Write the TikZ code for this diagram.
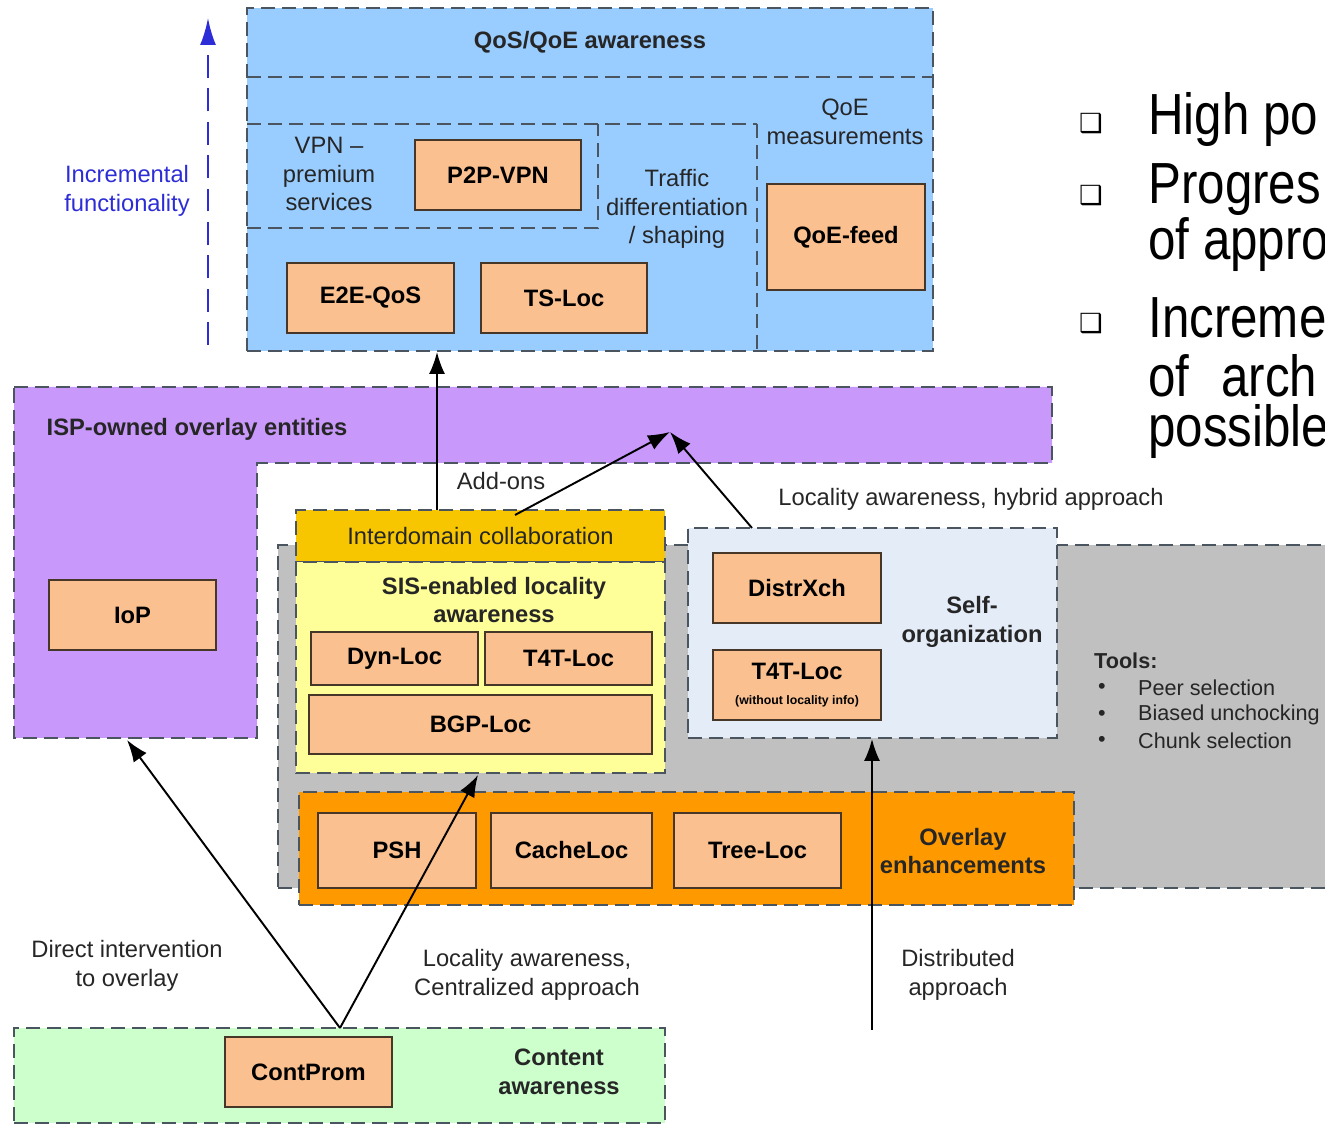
\documentclass[tikz,border=0pt]{standalone}
\usepackage{fontspec}
\setmainfont{Liberation Sans}
\newfontfamily\bigfont[FakeStretch=0.85]{Liberation Sans}
\newfontfamily\symfont{DejaVu Sans}
\usepackage{xcolor}
\usetikzlibrary{arrows.meta}

\definecolor{qosblue}{RGB}{153,204,255}
\definecolor{ispviolet}{RGB}{200,152,250}
\definecolor{graybg}{RGB}{192,192,192}
\definecolor{idcgold}{RGB}{247,198,0}
\definecolor{sisyellow}{RGB}{255,255,153}
\definecolor{selforg}{RGB}{228,236,248}
\definecolor{ovlorange}{RGB}{255,153,0}
\definecolor{contgreen}{RGB}{204,255,204}
\definecolor{compfill}{RGB}{250,192,143}
\definecolor{compedge}{RGB}{70,55,40}
\definecolor{edgegray}{RGB}{75,85,95}
\definecolor{incblue}{RGB}{45,45,215}

\tikzset{
  region/.style={draw=edgegray, dashed, dash pattern=on 8pt off 4pt, line width=1.1pt, inner sep=0pt},
  divider/.style={draw=edgegray, dashed, dash pattern=on 8pt off 4pt, line width=1.1pt},
  comp/.style={draw=compedge, fill=compfill, line width=1.2pt, inner sep=0pt, align=center,
    font=\fontsize{13.5}{16}\selectfont\bfseries},
  lbl/.style={align=center, text=black!85, font=\fontsize{13.5}{16.4}\selectfont},
  blbl/.style={lbl, font=\fontsize{13.5}{16.4}\selectfont\bfseries},
  tool/.style={anchor=west, text=black!85, font=\fontsize{12.3}{14}\selectfont},
  arr/.style={-{Latex[length=0.44cm,width=0.32cm]}, line width=1.1pt},
  big/.style={anchor=west, inner sep=0pt, font=\bigfont\fontsize{33}{38}\selectfont},
  sq/.style={inner sep=0pt, font=\symfont\fontsize{15}{16}\selectfont},
}

\begin{document}
\begin{tikzpicture}
\path[use as bounding box, clip] (0,0) rectangle (26.5,22.5);

% regions %
\node[region, fill=qosblue, minimum width=13.72cm, minimum height=6.86cm] (qos) at (11.80,18.91) {};
\draw[divider] (4.94,20.96) -- (18.66,20.96);
\draw[divider] (4.94,20.02) -- (15.14,20.02);
\draw[divider] (4.94,17.94) -- (11.96,17.94) -- (11.96,20.02);
\draw[divider] (15.14,20.02) -- (15.14,15.48);

\draw[region, fill=ispviolet] (0.28,14.76) -- (21.04,14.76) -- (21.04,13.24) -- (5.14,13.24)
  -- (5.14,7.74) -- (0.28,7.74) -- cycle;

\node[region, fill=graybg, minimum width=21.34cm, minimum height=6.86cm] (tooling) at (16.23,8.17) {};
\node[region, fill=idcgold, minimum width=7.38cm, minimum height=1.04cm] (idc) at (9.61,11.78) {};
\node[region, fill=sisyellow, minimum width=7.38cm, minimum height=4.22cm] (sis) at (9.61,9.15) {};
\node[region, fill=selforg, minimum width=7.38cm, minimum height=4.20cm] (selforg) at (17.45,9.84) {};
\node[region, fill=ovlorange, minimum width=15.50cm, minimum height=2.26cm] (overlay) at (13.73,5.53) {};
\node[region, fill=contgreen, minimum width=13.02cm, minimum height=1.90cm] (content) at (6.79,0.99) {};

% components %
\node[comp, minimum width=3.32cm, minimum height=1.40cm] (ptpvpn) at (9.96,19.00) {P2P-VPN};
\node[comp, minimum width=3.16cm, minimum height=2.12cm] (qoefeed) at (16.92,17.76) {QoE-feed};
\node[comp, minimum width=3.34cm, minimum height=1.40cm] (etoe) at (7.41,16.54) {E2E-QoS};
\node[comp, minimum width=3.32cm, minimum height=1.40cm] (tsloc) at (11.28,16.54) {TS-Loc};
\node[comp, minimum width=3.34cm, minimum height=1.40cm] (iop) at (2.65,10.20) {IoP};
\node[comp, minimum width=3.34cm, minimum height=1.06cm] (dynloc) at (7.89,9.33) {Dyn-Loc};
\node[comp, minimum width=3.34cm, minimum height=1.06cm] (tftloc) at (11.37,9.33) {T4T-Loc};
\node[comp, minimum width=6.86cm, minimum height=1.18cm] (bgploc) at (9.61,8.01) {BGP-Loc};
\node[comp, minimum width=3.36cm, minimum height=1.40cm] (distrxch) at (15.94,10.74) {DistrXch};
\node[comp, minimum width=3.36cm, minimum height=1.40cm] (tftnoloc) at (15.94,8.80)
  {T4T-Loc\\[-2pt]{\fontsize{7}{8}\selectfont (without locality info)}};
\node[comp, minimum width=3.16cm, minimum height=1.50cm] (psh) at (7.94,5.49) {PSH};
\node[comp, minimum width=3.22cm, minimum height=1.50cm] (cacheloc) at (11.43,5.49) {CacheLoc};
\node[comp, minimum width=3.34cm, minimum height=1.50cm] (treeloc) at (15.15,5.49) {Tree-Loc};
\node[comp, minimum width=3.34cm, minimum height=1.40cm] (contprom) at (6.17,1.06) {ContProm};

% texts %
\node[blbl] (qostitle) at (11.80,21.66) {QoS/QoE awareness};
\node[lbl] (qoemeas) at (16.90,20.07) {QoE\\measurements};
\node[lbl] (vpn) at (6.58,19.02) {VPN --\\premium\\services};
\node[lbl] (traffic) at (13.54,18.32) {Traffic\\differentiation\\/ shaping};
\node[lbl, text=incblue] (incr) at (2.54,18.68) {Incremental\\functionality};
\node[blbl] (isptitle) at (3.94,13.92) {ISP-owned overlay entities};
\node[lbl] (idctitle) at (9.61,11.78) {Interdomain collaboration};
\node[blbl] (sistitle) at (9.88,10.50) {SIS-enabled locality\\awareness};
\node[blbl] (sotitle) at (19.44,10.06) {Self-\\organization};
\node[blbl] (ovltitle) at (19.26,5.48) {Overlay\\enhancements};
\node[blbl] (conttitle) at (11.18,1.06) {Content\\awareness};
\node[lbl] (addons) at (10.02,12.88) {Add-ons};
\node[lbl] (hybrid) at (19.42,12.52) {Locality awareness, hybrid approach};
\node[lbl] (direct) at (2.54,3.18) {Direct intervention\\to overlay};
\node[lbl] (central) at (10.54,3.00) {Locality awareness,\\Centralized approach};
\node[lbl] (distrib) at (19.16,3.00) {Distributed\\approach};

\node[tool, font=\fontsize{12.3}{14}\selectfont\bfseries] (tools) at (21.76,9.28) {Tools:};
\node[tool] (b1) at (21.84,8.74) {•};
\node[tool] (b2) at (21.84,8.20) {•};
\node[tool] (b3) at (21.84,7.68) {•};
\node[tool] (t1) at (22.64,8.74) {Peer selection};
\node[tool] (t2) at (22.64,8.20) {Biased unchocking};
\node[tool] (t3) at (22.64,7.68) {Chunk selection};

\node[sq] (sq1) at (21.82,20.02) {❑};
\node[sq] (sq2) at (21.82,18.58) {❑};
\node[sq] (sq3) at (21.82,16.02) {❑};
\node[big] (h1) at (22.96,20.10) {High po};
\node[big] (h2) at (22.96,18.70) {Progres};
\node[big] (h3) at (22.96,17.60) {of appro};
\node[big] (h4) at (22.96,16.14) {Increme};
\node[big] (h5) at (22.96,14.98) {of\hspace{0.64cm}arch};
\node[big] (h6) at (22.96,13.86) {possible};

% connectors %
\coordinate (incbot) at (4.16,15.60);
\coordinate (inctop) at (4.16,22.14);
\coordinate (idcup) at (8.74,12.30);
\coordinate (idcout) at (10.30,12.20);
\coordinate (ispin) at (13.40,13.86);
\coordinate (soout) at (15.04,11.94);
\coordinate (ispfoot) at (2.54,7.70);
\coordinate (contup) at (6.80,1.94);
\coordinate (sisfoot) at (9.56,7.00);
\coordinate (distfoot) at (17.44,1.90);

\draw[-{Latex[length=0.54cm,width=0.32cm]}, incblue, line width=1.3pt, dashed, dash pattern=on 13pt off 6pt] (incbot) -- (inctop);
\draw[arr] (idcup) -- (idcup |- qos.south);
\draw[arr] (idcout) -- (ispin);
\draw[arr] (soout) -- (ispin);
\draw[arr] (contup) -- (ispfoot);
\draw[arr] (contup) -- (sisfoot);
\draw[arr] (distfoot) -- (distfoot |- selforg.south);
\end{tikzpicture}
\end{document}
